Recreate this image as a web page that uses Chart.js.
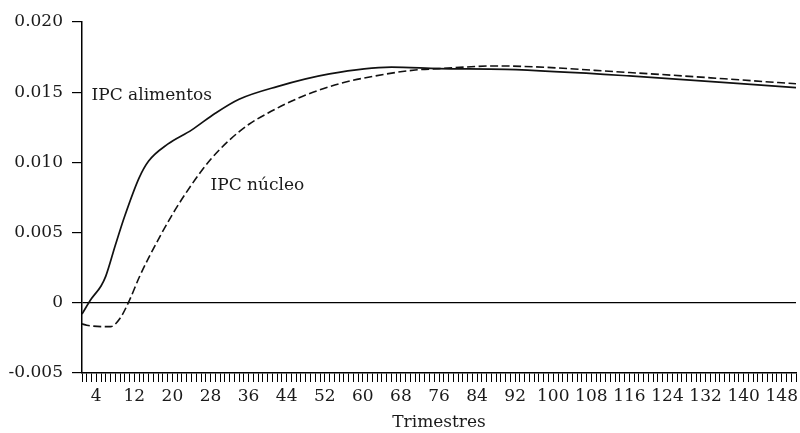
<!DOCTYPE html>
<html>
<head>
<meta charset="utf-8">
<script src="https://cdn.jsdelivr.net/npm/chart.js@4.4.1/dist/chart.umd.min.js"></script>
<style>
  html, body { margin: 0; padding: 0; background: #fff; }
  #wrap { width: 800px; height: 433px; position: relative; }
</style>
</head>
<body>
<div id="wrap"><canvas id="c" width="800" height="433"></canvas></div>
<script>
// Quarters (x) and values
const alimentosQ = [1, 3, 5, 6, 8, 10, 13, 15, 19, 24, 29, 34, 42, 53, 66, 76, 90, 116, 151];
const alimentosV = [-0.0008, 0.0003, 0.0012, 0.0019, 0.0041, 0.0062, 0.0089, 0.0101, 0.0113, 0.0123, 0.0135, 0.0145, 0.0154, 0.0163, 0.01678, 0.01668, 0.01662, 0.01616, 0.01532];

const nucleoQ = [1, 2, 7, 9, 11, 13, 15, 20, 24, 28, 32, 36, 40, 44, 48, 55, 65, 71, 76, 88, 116, 151];
const nucleoV = [-0.0015, -0.0016, -0.0017, -0.0011, 0.0002, 0.0018, 0.0032, 0.0063, 0.0084, 0.0102, 0.0116, 0.0127, 0.0135, 0.0142, 0.0148, 0.0156, 0.0163, 0.01658, 0.01668, 0.01687, 0.0164, 0.0156];

const seriesNames = ['IPC alimentos', 'IPC núcleo'];
const xTickLabels = [4, 12, 20, 28, 36, 44, 52, 60, 68, 76, 84, 92, 100, 108, 116, 124, 132, 140, 148];
const yTickLabels = ['-0.005', '0', '0.005', '0.010', '0.015', '0.020'];
const xTitle = 'Trimestres';

// In-plot labels anchored in data coordinates (quarter, value)
const noteText = ['IPC alimentos', 'IPC núcleo'];
const noteQ = [3.0, 28.0];
const noteV = [0.01443, 0.00802];

const FONT = '"DejaVu Serif", serif';
const INK = '#1a1a1a';

const toPts = (qs, vs) => qs.map((q, i) => ({ x: q, y: vs[i] }));

const notesPlugin = {
  id: 'notes',
  afterDatasetsDraw(chart) {
    const { ctx, scales } = chart;
    ctx.save();
    ctx.font = '17px ' + FONT;
    ctx.fillStyle = INK;
    ctx.textAlign = 'left';
    ctx.textBaseline = 'alphabetic';
    noteText.forEach((t, i) => {
      ctx.fillText(t, scales.x.getPixelForValue(noteQ[i]), scales.y.getPixelForValue(noteV[i]));
    });
    ctx.restore();
  }
};

new Chart(document.getElementById('c'), {
  type: 'line',
  data: {
    datasets: [
      {
        label: seriesNames[0],
        data: toPts(alimentosQ, alimentosV),
        borderColor: '#111',
        borderWidth: 1.7,
        pointRadius: 0,
        cubicInterpolationMode: 'monotone',
        fill: false
      },
      {
        label: seriesNames[1],
        data: toPts(nucleoQ, nucleoV),
        borderColor: '#111',
        borderWidth: 1.6,
        borderDash: [8, 3.5],
        pointRadius: 0,
        cubicInterpolationMode: 'monotone',
        fill: false
      }
    ]
  },
  options: {
    responsive: false,
    animation: false,
    events: [],
    layout: { padding: { top: 22, right: 2, left: 0, bottom: 0 } },
    plugins: { legend: { display: false }, tooltip: { enabled: false } },
    scales: {
      x: {
        type: 'linear',
        min: 1,
        max: 151,
        afterFit(s) { s.height = 60; },
        border: { display: true, color: '#000', width: 1.5 },
        grid: { drawOnChartArea: false, drawTicks: true, tickLength: 9, tickColor: '#000', tickWidth: 1 },
        ticks: {
          stepSize: 1,
          autoSkip: false,
          maxRotation: 0,
          minRotation: 0,
          padding: 4,
          color: INK,
          font: { family: FONT, size: 17 },
          callback: (v) => xTickLabels.includes(v) ? String(v) : ''
        },
        title: {
          display: true,
          text: xTitle,
          color: INK,
          font: { family: FONT, size: 17 },
          padding: { top: 0, bottom: 0 }
        }
      },
      y: {
        min: -0.005,
        max: 0.020,
        afterFit(s) { s.width = 82; },
        border: { display: true, color: '#000', width: 1.5 },
        grid: {
          drawOnChartArea: true,
          drawTicks: true,
          tickLength: 10,
          tickColor: '#000',
          color: (c) => (c.tick && Math.abs(c.tick.value) < 1e-9) ? '#000' : 'rgba(0,0,0,0)',
          lineWidth: 1.2
        },
        ticks: {
          stepSize: 0.005,
          padding: 9,
          color: INK,
          font: { family: FONT, size: 17 },
          callback: (v, i) => yTickLabels[i]
        }
      }
    }
  },
  plugins: [notesPlugin]
});
</script>
</body>
</html>
